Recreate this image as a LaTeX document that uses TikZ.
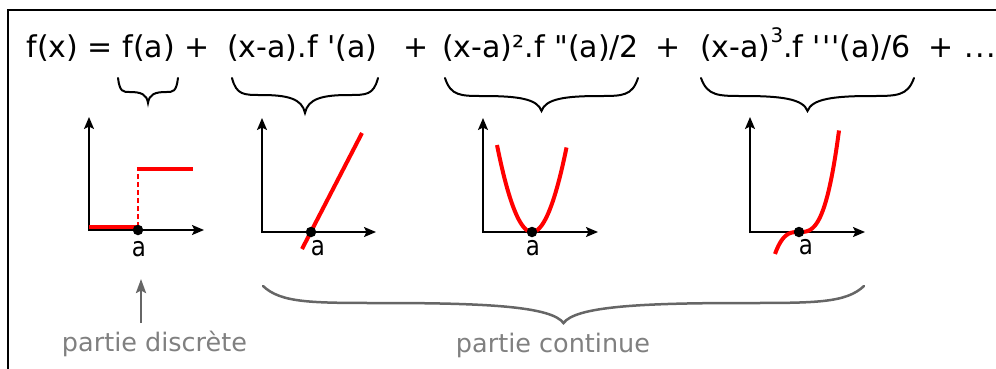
\documentclass[tikz,border=0pt]{standalone}
\usepackage{fontspec}
\setmainfont{DejaVu Sans}
\newfontfamily\labfont{DejaVu Sans}[FakeStretch=0.85]
\usetikzlibrary{arrows.meta}
\definecolor{lblgray}{HTML}{808080}
\definecolor{bracegray}{HTML}{666666}
\definecolor{plotred}{HTML}{FF0000}
\newcommand\curlybrace[6]{%
  \pgfmathsetmacro\cbm{(#2+#3)/2}%
  \pgfmathsetmacro\cbw{#3-#2}%
  \draw[#1] (#2,#4) .. controls ({#2+0.03*\cbw},{#5}) and ({#2+0.08*\cbw},{#5}) .. ({#2+0.2*\cbw},{#5})
    .. controls ({\cbm-0.12*\cbw},{#5}) and ({\cbm-0.02*\cbw},{#5+0.2*(#6-#5)}) .. (\cbm,#6)
    .. controls ({\cbm+0.02*\cbw},{#5+0.2*(#6-#5)}) and ({\cbm+0.12*\cbw},{#5}) .. ({#3-0.2*\cbw},{#5})
    .. controls ({#3-0.08*\cbw},{#5}) and ({#3-0.03*\cbw},{#5}) .. (#3,#4);
}
\begin{document}
\begin{tikzpicture}[x=1pt,y=-1pt,
  formula/.style={anchor=base west,inner sep=0pt,font=\fontsize{30}{36}\selectfont},
  axisline/.style={line width=2pt,-{Stealth[length=12pt,width=10pt,inset=2.5pt]}},
  curve/.style={plotred,line width=4pt},
  dotpt/.style={circle,fill=black,inner sep=0pt,minimum size=10.5pt},
  alabel/.style={anchor=base,inner sep=0pt,font=\labfont\fontsize{27}{30}\selectfont},
  graylabel/.style={anchor=base,inner sep=0pt,text=lblgray,font=\fontsize{25.5}{30}\selectfont},
  smallbrace/.style={line width=2pt,line cap=round},
  bigbrace/.style={bracegray,line width=2.5pt,line cap=round},
  grayarrow/.style={bracegray,line width=2.5pt,-{Stealth[length=14pt,width=10pt,inset=2.5pt]}},
  ]
\useasboundingbox (0,0) rectangle (996,368);
\clip (0,0) rectangle (996,368);
\draw[line width=2pt] (8,10) rectangle (1010,380);

% formula
\node[formula] (t0) at (26.5,57) {f(x) = f(a) +};
\node[formula] (t1) at (227,57) {(x-a).f \textquotesingle(a)};
\node[formula] (p1) at (403,57) {+};
\node[formula] (t2) at (442,57) {(x-a)².f \textquotedbl(a)/2};
\node[formula] (p2) at (655,57) {+};
\node[formula] (t3) at (700,57) {(x-a)\raisebox{0.47em}{\fontsize{20}{22}\selectfont 3}.f \textquotesingle\kern1pt\textquotesingle\kern1pt\textquotesingle(a)/6};
\node[formula] (p3) at (928,57) {+ \kern2pt.\kern1.5pt.\kern1.5pt.};

% braces under terms
\curlybrace{smallbrace}{118}{178}{78}{92}{103}
\curlybrace{smallbrace}{232}{378}{78}{95}{113}
\curlybrace{smallbrace}{445}{638}{78}{96}{111}
\curlybrace{smallbrace}{701}{914}{78}{96}{111}

% plot 1: discrete jump
\coordinate (o1) at (89,231);
\coordinate (y1) at (89,117);
\coordinate (x1s) at (88,230);
\coordinate (x1) at (204,230);
\draw[axisline] (o1) -- (y1);
\draw[axisline] (x1s) -- (x1);
\coordinate (l1a) at (89,227);
\coordinate (l1b) at (138,227);
\coordinate (l1c) at (138,169);
\coordinate (l1d) at (193,169);
\draw[curve] (l1a) -- (l1b);
\draw[plotred,line width=2.5pt,dash pattern=on 5pt off 3pt] (l1b) -- (l1c);
\draw[curve] ([xshift=-1.25pt]l1c) -- (l1d);
\node[dotpt] (d1) at (138,230) {};
\node[alabel] (a1) at (139,256) {a};

% plot 2: line
\draw[axisline] (262,233) coordinate (o2) -- (262,118) coordinate (y2);
\draw[axisline] (261,232) coordinate (x2s) -- (376,232) coordinate (x2);
\coordinate (l2a) at (302,249);
\coordinate (l2b) at (362,133);
\draw[curve] (l2a) -- (l2b);
\node[dotpt] (d2) at (311,232) {};
\node[alabel] (a2) at (318,255) {a};

% plot 3: parabola
\draw[axisline] (483,233) coordinate (o3) -- (483,118) coordinate (y3);
\draw[axisline] (482,232) coordinate (x3s) -- (598,232) coordinate (x3);
\draw[curve] plot[domain=-35:34.5,samples=60,smooth] ({532+\x},{232-0.071*\x*\x});
\node[dotpt] (d3) at (532,232) {};
\node[alabel] (a3) at (533,255) {a};

% plot 4: cubic
\draw[axisline] (750,233) coordinate (o4) -- (750,117) coordinate (y4);
\draw[axisline] (749,232) coordinate (x4s) -- (865,232) coordinate (x4);
\draw[curve] plot[domain=-24:40,samples=60,smooth] ({799+\x},{232-0.00158*\x*\x*\x});
\node[dotpt] (d4) at (799,232) {};
\node[alabel] (a4) at (806,254) {a};

% bottom annotations
\curlybrace{bigbrace}{263}{864}{286}{303}{323}
\node[graylabel] (disc) at (154.5,351) {partie discrète};
\node[graylabel] (cont) at (553,352) {partie continue};
\coordinate (arrS) at (141,323);
\coordinate (arrE) at (141,279);
\draw[grayarrow] (arrS) -- (arrE);
\end{tikzpicture}
\end{document}
